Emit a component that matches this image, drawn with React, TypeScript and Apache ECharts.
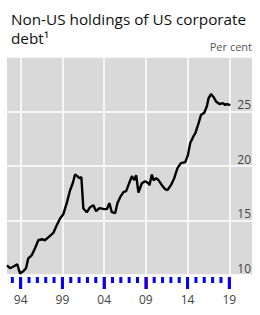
import React, { useEffect, useRef } from 'react';
import * as echarts from 'echarts';

const dates = [
  1992.36, 1992.72, 1993.2, 1993.59, 1993.92, 1994.31, 1994.64, 1994.91, 1995.32, 1995.72,
  1996.11, 1996.52, 1996.92, 1997.31, 1997.91, 1998.32, 1998.72, 1999.11, 1999.52, 1999.92,
  2000.24, 2000.52, 2000.79, 2001.03, 2001.27, 2001.51, 2001.92, 2002.32, 2002.71, 2003.04,
  2003.43, 2003.91, 2004.32, 2004.63, 2004.92, 2005.32, 2005.59, 2005.92, 2006.31, 2006.64,
  2006.91, 2007.32, 2007.6, 2007.84, 2008.11, 2008.52, 2008.92, 2009.31, 2009.43, 2009.72,
  2009.91, 2010.24, 2010.51, 2010.92, 2011.32, 2011.59, 2012.0, 2012.4, 2012.79, 2013.2,
  2013.72, 2014.04, 2014.32, 2014.71, 2014.92, 2015.31, 2015.6, 2016.0, 2016.32, 2016.51,
  2016.8, 2017.11, 2017.44, 2017.83, 2018.24, 2018.52, 2018.72, 2019.12,
];
const values = [
  10.89, 10.62, 10.8, 10.98, 10.15, 10.34, 10.62, 11.53, 11.81, 12.45,
  13.19, 13.28, 13.19, 13.46, 13.86, 14.57, 15.18, 15.58, 16.59, 17.78,
  18.42, 19.22, 19.07, 18.88, 18.98, 16.1, 15.76, 16.22, 16.4, 15.85,
  16.13, 16.06, 16.04, 16.59, 15.76, 15.67, 16.59, 17.14, 17.6, 17.69,
  18.24, 19.07, 18.7, 19.16, 17.57, 18.42, 18.61, 18.42, 18.24, 19.22,
  18.7, 18.88, 18.7, 18.24, 17.87, 17.78, 18.24, 18.88, 19.8, 20.26,
  20.35, 21.0, 22.1, 22.74, 22.99, 23.91, 24.67, 24.88, 25.5, 26.21,
  26.6, 26.33, 25.89, 25.68, 25.77, 25.59, 25.68, 25.59,
];
const majorYears = [1994, 1999, 2004, 2009, 2014, 2019];
const minorYears = [
  1993, 1995, 1996, 1997, 1998, 2000, 2001, 2002, 2003, 2005, 2006,
  2007, 2008, 2010, 2011, 2012, 2013, 2015, 2016, 2017, 2018,
];
const titleText = 'Non-US holdings of US corporate\ndebt¹';
const unitText = 'Per cent';
const yMin = 10;
const yMax = 30;
const yStep = 5;
const xMin = 1992.36;
const xMax = 2021.72;

export default function App() {
  const ref = useRef<HTMLDivElement>(null);
  useEffect(() => {
    document.body.style.margin = '0';
    const chart = echarts.init(ref.current!, undefined, { renderer: 'svg' });
    const font = '"Open Sans", "Noto Sans", sans-serif';
    const tickData = [
      ...majorYears.map((y) => [y, yMin, 1]),
      ...minorYears.map((y) => [y, yMin, 0]),
    ];
    chart.setOption({
      animation: false,
      title: {
        text: titleText,
        left: 6,
        top: 4,
        textStyle: { fontFamily: font, fontSize: 15.3, fontWeight: 'normal', color: '#111', lineHeight: 19 },
      },
      graphic: [
        {
          type: 'text',
          right: 8,
          top: 41,
          style: { text: unitText, fontFamily: font, fontSize: 11, fill: '#555' },
        },
      ],
      grid: {
        left: 7,
        right: 8,
        top: 57,
        bottom: 40,
        show: true,
        backgroundColor: '#d9d9d9',
        borderWidth: 0,
      },
      xAxis: {
        type: 'value',
        min: xMin,
        max: xMax,
        position: 'bottom',
        offset: 2,
        axisLine: { show: false },
        axisTick: { show: true, customValues: majorYears, length: 12, lineStyle: { color: '#f00', width: 3 } },
        axisLabel: {
          customValues: majorYears,
          margin: 16,
          fontSize: 12,
          color: '#444',
          fontFamily: font,
          formatter: (v: number) => String(Math.round(v) % 100).padStart(2, '0'),
        },
        splitLine: { show: true, lineStyle: { color: '#fff', width: 1.5 } },
      },
      yAxis: {
        type: 'value',
        position: 'right',
        min: yMin,
        max: yMax,
        interval: yStep,
        axisLine: { show: false },
        axisTick: { show: false },
        axisLabel: {
          inside: true,
          margin: 1,
          fontSize: 12,
          color: '#444',
          fontFamily: font,
          verticalAlign: 'bottom',
          padding: [0, 0, 1, 0],
          formatter: (v: number) => (v === yMax ? '' : String(v)),
        },
        splitLine: { show: true, lineStyle: { color: '#fff', width: 1.5 } },
      },
      series: [
        {
          type: 'line',
          data: dates.map((d, i) => [d, values[i]]),
          showSymbol: false,
          lineStyle: { color: '#000', width: 2.4 },
        },
        {
          type: 'custom',
          clip: false,
          silent: true,
          data: tickData,
          encode: { x: 0, y: 1 },
          renderItem: (params: any, api: any) => {
            const p = api.coord([api.value(0), api.value(1)]);
            const len = api.value(2) ? 12 : 6;
            return {
              type: 'line',
              shape: { x1: p[0], y1: p[1] + 2, x2: p[0], y2: p[1] + 2 + len },
              style: { stroke: '#00f', lineWidth: 3 },
            };
          },
        },
      ],
    });
    return () => chart.dispose();
  }, []);
  return <div ref={ref} style={{ width: 260, height: 315 }} />;
}
